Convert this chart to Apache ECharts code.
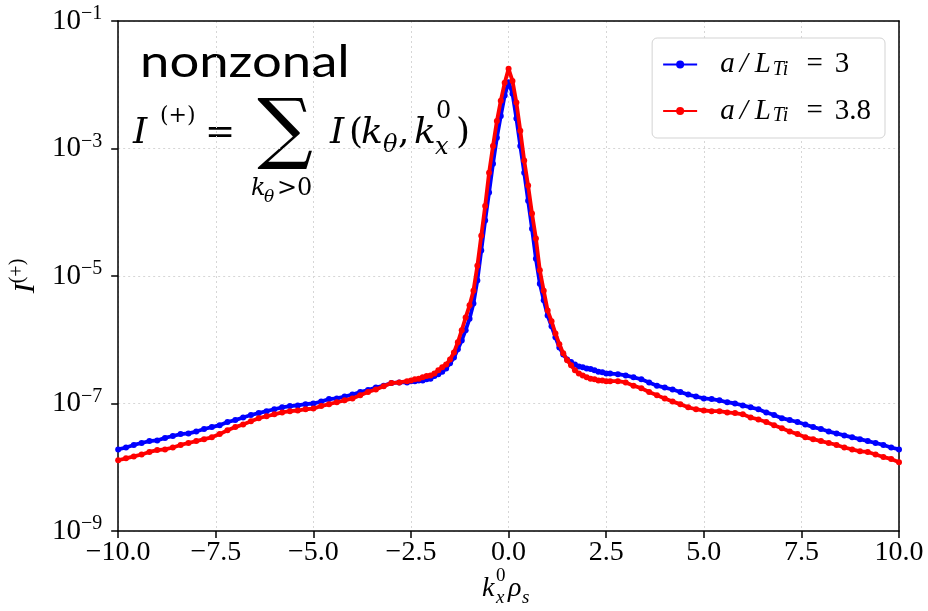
<!DOCTYPE html>
<html>
<head>
<meta charset="utf-8">
<script src="https://cdn.jsdelivr.net/npm/echarts@6.0.0/dist/echarts.min.js"></script>
<style>
  html, body { margin: 0; padding: 0; background: #fff; }
  #main { width: 928px; height: 611px; }
</style>
</head>
<body>
<div id="main"></div>
<script>
// k_x^0 rho_s grid (tails every 0.2, centre every 0.1)
var kx = [
  -10, -9.8, -9.6, -9.4, -9.2, -9, -8.8, -8.6, -8.4, -8.2,
  -8, -7.8, -7.6, -7.4, -7.2, -7, -6.8, -6.6, -6.4, -6.2,
  -6, -5.8, -5.6, -5.4, -5.2, -5, -4.8, -4.6, -4.4, -4.2,
  -4, -3.8, -3.6, -3.4, -3.2, -3, -2.8, -2.6,
  -2.5, -2.4, -2.3, -2.2, -2.1, -2, -1.9, -1.8, -1.7, -1.6,
  -1.5, -1.4, -1.3, -1.2, -1.1, -1, -0.9, -0.8, -0.7, -0.6,
  -0.5, -0.4, -0.3, -0.2, -0.1,
  0,
  0.1, 0.2, 0.3, 0.4, 0.5,
  0.6, 0.7, 0.8, 0.9, 1, 1.1, 1.2, 1.3, 1.4, 1.5,
  1.6, 1.7, 1.8, 1.9, 2, 2.1, 2.2, 2.3, 2.4, 2.5,
  2.6, 2.8, 3, 3.2, 3.4, 3.6, 3.8, 4, 4.2, 4.4,
  4.6, 4.8, 5, 5.2, 5.4, 5.6, 5.8, 6, 6.2, 6.4,
  6.6, 6.8, 7, 7.2, 7.4, 7.6, 7.8, 8, 8.2, 8.4,
  8.6, 8.8, 9, 9.2, 9.4, 9.6, 9.8, 10
];

// log10 of I(+), a/L_Ti = 3
var logI_3 = [
  -7.72, -7.69, -7.65, -7.62, -7.59, -7.58, -7.54, -7.51, -7.48, -7.47,
  -7.44, -7.40, -7.37, -7.34, -7.29, -7.26, -7.22, -7.18, -7.15, -7.12,
  -7.09, -7.06, -7.04, -7.03, -7.01, -7.00, -6.97, -6.93, -6.92, -6.89,
  -6.86, -6.82, -6.79, -6.75, -6.72, -6.68, -6.67, -6.67,
  -6.65, -6.65, -6.64, -6.64, -6.62, -6.61, -6.57, -6.54, -6.50, -6.45,
  -6.37, -6.28, -6.15, -6.01, -5.85, -5.67, -5.43, -5.07, -4.60, -4.13,
  -3.69, -3.24, -2.83, -2.49, -2.17,
  -1.96,
  -2.14, -2.53, -2.96, -3.38, -3.82,
  -4.26, -4.73, -5.12, -5.38, -5.62, -5.79, -5.96, -6.12, -6.23, -6.31,
  -6.35, -6.39, -6.42, -6.43, -6.45, -6.46, -6.48, -6.50, -6.51, -6.53,
  -6.53, -6.54, -6.56, -6.59, -6.62, -6.67, -6.72, -6.75, -6.78, -6.82,
  -6.86, -6.89, -6.92, -6.93, -6.95, -6.98, -7.00, -7.03, -7.06, -7.09,
  -7.14, -7.18, -7.23, -7.26, -7.29, -7.33, -7.37, -7.40, -7.44, -7.47,
  -7.50, -7.53, -7.56, -7.59, -7.62, -7.65, -7.69, -7.72
];

// log10 of I(+), a/L_Ti = 3.8
var logI_38 = [
  -7.89, -7.86, -7.83, -7.80, -7.76, -7.73, -7.72, -7.69, -7.65, -7.62,
  -7.59, -7.56, -7.53, -7.48, -7.42, -7.37, -7.33, -7.28, -7.23, -7.20,
  -7.17, -7.14, -7.12, -7.11, -7.09, -7.08, -7.04, -7.01, -6.98, -6.95,
  -6.92, -6.87, -6.82, -6.78, -6.73, -6.68, -6.67, -6.65,
  -6.64, -6.62, -6.61, -6.59, -6.57, -6.56, -6.53, -6.48, -6.43, -6.39,
  -6.31, -6.20, -6.04, -5.85, -5.65, -5.46, -5.23, -4.84, -4.37, -3.90,
  -3.38, -2.96, -2.57, -2.25, -1.97,
  -1.75,
  -1.94, -2.28, -2.72, -3.19, -3.58,
  -4.02, -4.41, -4.91, -5.23, -5.54, -5.71, -5.90, -6.07, -6.21, -6.32,
  -6.40, -6.48, -6.53, -6.56, -6.59, -6.61, -6.62, -6.64, -6.64, -6.65,
  -6.65, -6.65, -6.67, -6.72, -6.76, -6.82, -6.87, -6.92, -6.97, -7.01,
  -7.06, -7.09, -7.11, -7.12, -7.12, -7.14, -7.15, -7.17, -7.22, -7.25,
  -7.29, -7.34, -7.39, -7.44, -7.48, -7.53, -7.56, -7.59, -7.62, -7.65,
  -7.69, -7.72, -7.75, -7.76, -7.80, -7.84, -7.87, -7.92
];

var seriesNames = ['a/L_Ti = 3', 'a/L_Ti = 3.8'];
var yExpMin = -9;   // bottom decade
var yExpMax = -1;   // top decade
var xTicks = [-10, 10, 2.5];

var serif = 'Liberation Serif';
var mathFont = 'DejaVu Serif';

function pairs(ys) {
  var out = [];
  for (var i = 0; i < kx.length; i++) {
    out.push([kx[i], ys[i] - yExpMin]);
  }
  return out;
}

// one piece of formula text, placed by its baseline
function piece(str, x, base, size, italic, family, align, sx) {
  return {
    type: 'text',
    x: x,
    y: base - 0.34 * size,
    scaleX: sx || 1,
    silent: true,
    style: {
      text: str,
      fontFamily: family || mathFont,
      fontSize: size,
      fontStyle: italic ? 'italic' : 'normal',
      fill: '#000',
      align: align || 'left',
      verticalAlign: 'middle'
    }
  };
}

var gridLine = { show: true, lineStyle: { color: '#d6d6d6', type: [2, 3], width: 1 } };
var frameLine = { show: true, onZero: false, lineStyle: { color: '#000', width: 1.5 } };

var myChart = echarts.init(document.getElementById('main'));
var option = {
  animation: false,
  backgroundColor: '#fff',
  grid: {
    left: 117,
    right: 29,
    top: 21,
    bottom: 80
  },
  legend: {
    orient: 'vertical',
    right: 43,
    top: 38,
    data: seriesNames,
    backgroundColor: '#fff',
    borderColor: '#d3d3d3',
    borderWidth: 1,
    borderRadius: 5,
    padding: [12, 14, 12, 10],
    itemWidth: 34,
    itemHeight: 10,
    itemGap: 17,
    formatter: function (name) {
      var v = name.split('= ')[1];
      return '{a|a}{sl|/}{L|L}{sub|Ti}{eq|=}{n|' + v + '}';
    },
    textStyle: {
      fontFamily: serif,
      fontSize: 29,
      color: '#000',
      rich: {
        a: { fontFamily: serif, fontStyle: 'italic', fontSize: 29, lineHeight: 30, padding: [0, 5, 0, 18] },
        sl: { fontFamily: serif, fontStyle: 'italic', fontSize: 29, lineHeight: 30, padding: [0, 7, 0, 0] },
        L: { fontFamily: serif, fontStyle: 'italic', fontSize: 29, lineHeight: 30, padding: [0, 2, 0, 0] },
        sub: { fontFamily: serif, fontStyle: 'italic', fontSize: 20, verticalAlign: 'bottom' },
        eq: { fontFamily: serif, fontSize: 29, lineHeight: 30, padding: [0, 12, 0, 18] },
        n: { fontFamily: serif, fontSize: 29, lineHeight: 30 }
      }
    }
  },
  xAxis: [
    {
      type: 'value',
      min: xTicks[0],
      max: xTicks[1],
      interval: xTicks[2],
      axisLine: frameLine,
      axisTick: { show: true, length: 7, lineStyle: { color: '#000', width: 1.5 } },
      axisLabel: {
        color: '#000',
        fontFamily: serif,
        fontSize: 28,
        margin: 8,
        formatter: function (v) {
          return (v < 0 ? '\u2212' : '') + Math.abs(v).toFixed(1);
        }
      },
      splitLine: gridLine
    },
    {
      // top edge of the frame
      type: 'value',
      position: 'top',
      min: xTicks[0],
      max: xTicks[1],
      axisLine: frameLine,
      axisTick: { show: false },
      axisLabel: { show: false },
      splitLine: { show: false }
    }
  ],
  yAxis: [
    {
      type: 'value',
      min: 0,
      max: yExpMax - yExpMin,
      interval: 2,
      name: '{i|I}{s|(+)}',
      nameLocation: 'middle',
      nameRotate: 90,
      nameGap: 72,
      nameTextStyle: {
        rich: {
          i: { fontFamily: serif, fontStyle: 'italic', fontSize: 30, lineHeight: 36, color: '#000' },
          s: { fontFamily: serif, fontSize: 20, verticalAlign: 'top', color: '#000' }
        }
      },
      axisLine: frameLine,
      axisTick: { show: true, length: 7, lineStyle: { color: '#000', width: 1.5 } },
      axisLabel: {
        margin: 16,
        formatter: function (v) {
          return '{b|10}{s|\u2212' + (-(v + yExpMin)) + '}';
        },
        rich: {
          b: { fontFamily: serif, fontSize: 29, lineHeight: 34, color: '#000' },
          s: { fontFamily: serif, fontSize: 20, verticalAlign: 'top', color: '#000' }
        }
      },
      splitLine: gridLine
    },
    {
      // right edge of the frame
      type: 'value',
      position: 'right',
      min: 0,
      max: yExpMax - yExpMin,
      axisLine: frameLine,
      axisTick: { show: false },
      axisLabel: { show: false },
      splitLine: { show: false }
    }
  ],
  series: [
    {
      name: seriesNames[0],
      type: 'line',
      data: pairs(logI_3),
      symbol: 'circle',
      symbolSize: 6,
      showSymbol: true,
      color: '#0000ff',
      lineStyle: { width: 3.8, color: '#0000ff' },
      itemStyle: { color: '#0000ff' },
      z: 2
    },
    {
      name: seriesNames[1],
      type: 'line',
      data: pairs(logI_38),
      symbol: 'circle',
      symbolSize: 6,
      showSymbol: true,
      color: '#ff0000',
      lineStyle: { width: 3.8, color: '#ff0000' },
      itemStyle: { color: '#ff0000' },
      z: 3
    }
  ],
  graphic: [
    // annotation
    piece('nonzonal', 140, 78, 45, false, 'Lato', 'left', 1.17),
    piece('I', 133, 146, 36, true),
    piece('(+)', 160, 124, 22, false),
    piece('=', 205, 146, 36, false),
    piece('\u2211', 285, 160, 78, false, mathFont, 'center'),
    piece('k', 251, 197, 24, true),
    piece('\u03b8', 264, 203, 17, true),
    piece('>0', 277, 197, 24, false),
    piece('I', 330, 146, 36, true),
    piece('(', 349, 146, 36, false),
    piece('k', 361, 146, 36, true),
    piece('\u03b8', 383, 154, 24, true),
    piece(',', 398, 146, 36, false),
    piece('k', 414, 146, 36, true),
    piece('0', 436, 120, 24, false),
    piece('x', 435, 156, 24, true),
    piece(')', 456, 146, 36, false),
    // x axis name  k_x^0 rho_s
    piece('k', 482, 598, 28, true, serif),
    piece('0', 496, 582, 19, false, serif),
    piece('x', 496, 604, 19, true, serif),
    piece('\u03c1', 508, 598, 28, true, serif),
    piece('s', 522, 604, 19, true, serif)
  ]
};
myChart.setOption(option);
</script>
</body>
</html>
